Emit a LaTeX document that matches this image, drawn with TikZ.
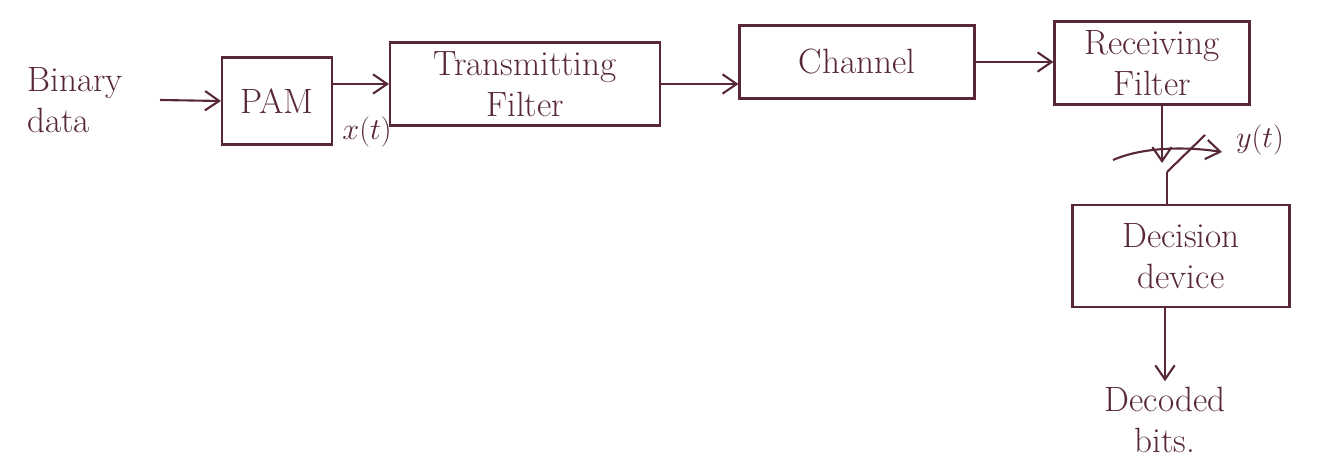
\documentclass[tikz,border=0pt]{standalone}
\usepackage{tikz}
\usetikzlibrary{arrows.meta,positioning}
\definecolor{ink}{RGB}{88,40,58}
\begin{document}
\begin{tikzpicture}[x=0.02cm, y=-0.02cm,
  every node/.style={font=\fontsize{20}{23}\selectfont, text=ink},
  blk/.style={draw=ink, line width=1.2pt, align=center, inner sep=0pt},
  wire/.style={draw=ink, line width=1.2pt},
  flow/.style={wire, -{Straight Barb[length=8pt,width=11pt]}}]
\useasboundingbox (0,0) rectangle (1328,472);
\node[align=left] (bin) at (75,100) {Binary\\data};
\node[blk, minimum width=2.2cm, minimum height=1.74cm] (pam) at (277,101) {PAM};
\node[blk, minimum width=5.4cm, minimum height=1.66cm] (tf) at (525,84) {Transmitting\\Filter};
\node[blk, minimum width=4.7cm, minimum height=1.46cm] (ch) at (857,62) {Channel};
\node[blk, minimum width=3.9cm, minimum height=1.66cm] (rf) at (1152,63) {Receiving\\Filter};
\node[blk, minimum width=4.34cm, minimum height=2.04cm] (dd) at (1181,256) {Decision\\device};
\node[align=center] (dec) at (1165,420) {Decoded\\bits.};
\node[font=\fontsize{18}{20}\selectfont] (xt) at (367,132) {$x(t)$};
\node[font=\fontsize{18}{20}\selectfont] (yt) at (1260,140) {$y(t)$};
\coordinate (smp) at (1162,163);
\coordinate (sw) at (1167,172);
\coordinate (swtip) at (1205,135);
\draw[flow] (160,100) -- (pam.west);
\draw[flow] (pam.east |- tf.west) -- (tf.west);
\draw[flow] (tf.east) -- (tf.east -| ch.west);
\draw[flow] (ch.east) -- (ch.east -| rf.west);
\draw[flow] (rf.south -| smp) -- (smp);
\draw[wire] (sw) -- (swtip);
\draw[wire] (sw) -- (sw |- dd.north);
\draw[flow] (1113,160) .. controls (1145,146) and (1190,147) .. (1222,152);
\draw[flow] (dd.south -| dec.north) -- (dec.north);
\end{tikzpicture}
\end{document}
